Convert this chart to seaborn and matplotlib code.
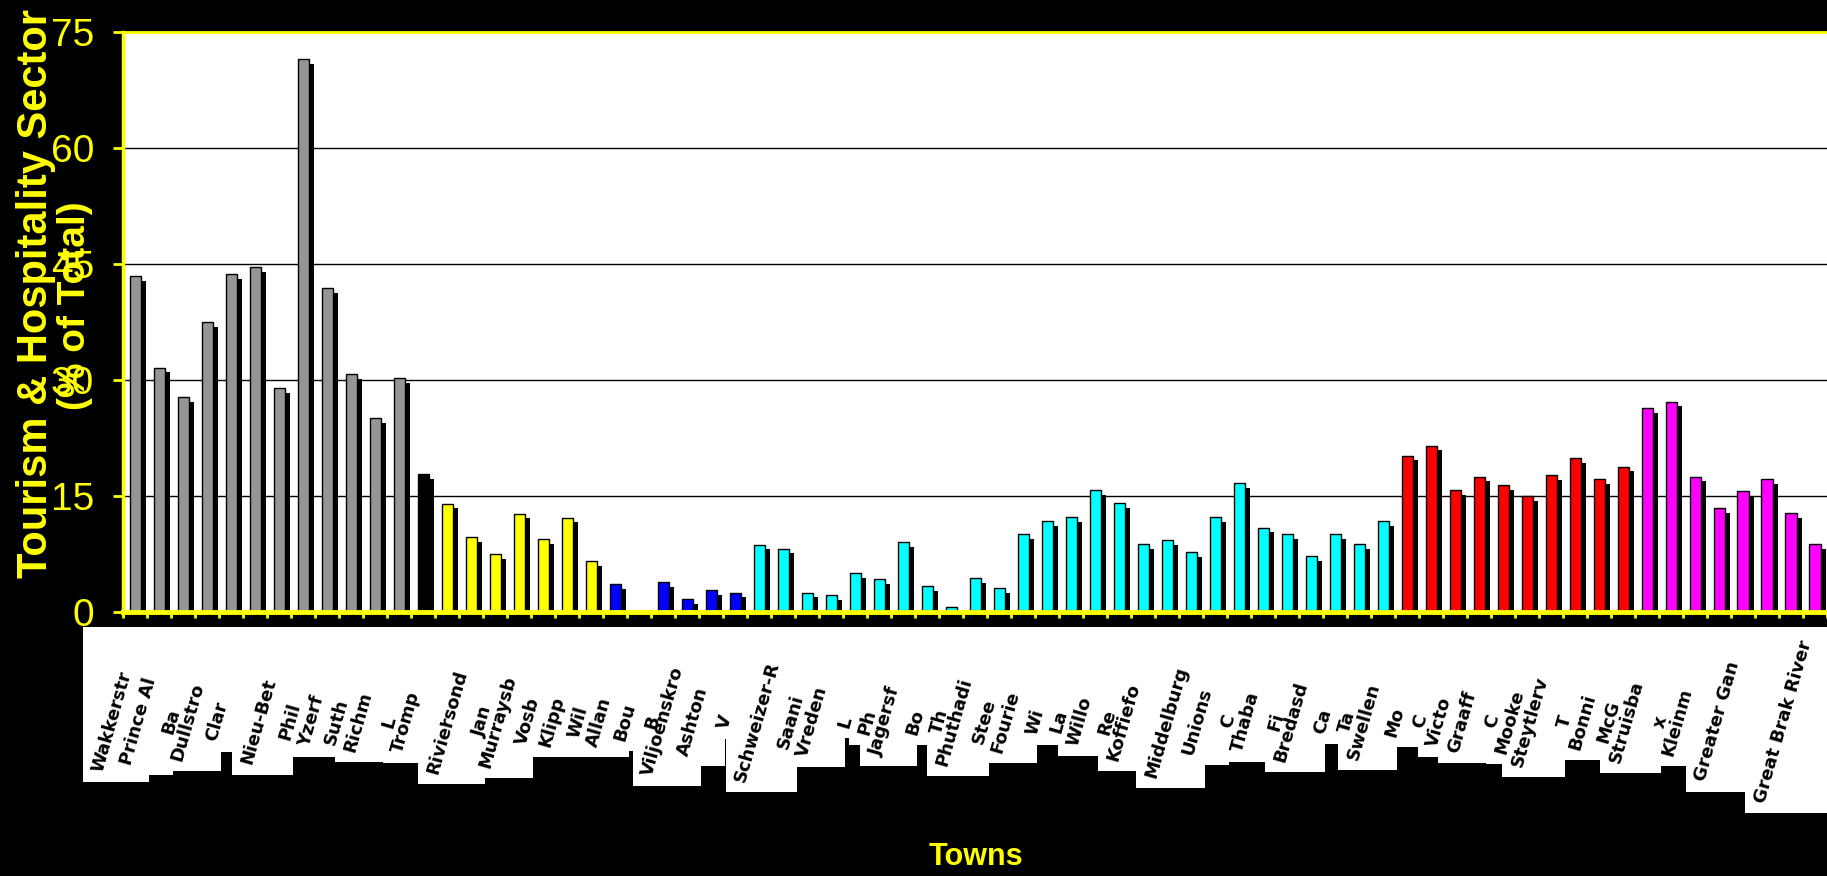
import numpy as np
import pandas as pd
import seaborn as sns
import matplotlib.pyplot as plt
from matplotlib.patches import Rectangle
from matplotlib.transforms import ScaledTranslation

# Town labels as they show (cut off) under each bar
towns = ["Wakkerstr", "Prince Al", "Ba", "Dullstro", "Clar", "", "Nieu-Bet", "Phil",
         "Yzerf", "Suth", "Richm", "L", "Tromp", ".", "Riviersond", "Jan",
         "Murraysb", "Vosb", "Klipp", "Wil", "Allan", "Bou", "B", "Viljoenskro",
         "Ashton", "V", "", "Schweizer-R", "Saani", "Vreden", "L", "Ph",
         "Jagersf", "Bo", "Th", "Phuthadi", "Stee", "Fourie", "Wi", "La",
         "Willo", "Re", "Koffiefo", "", "Middelburg", "Unions", "C", "Thaba",
         "Fi", "Bredasd", "Ca", "Ta", "Swellen", "Mo", "C", "Victo",
         "Graaff", "C", "Mooke", "Steytlerv", "T", "Bonni", "McG", "Struisba",
         "x", "Kleinm", "", "Greater Gan", "", "", "Great Brak River"]

# Tourism & hospitality share (% of total), per colour group
grey_vals = [43.4, 31.6, 27.8, 37.5, 43.7, 44.6, 28.9, 71.5, 41.9, 30.8, 25.1, 30.2]
black_vals = [17.8]
yellow_vals = [14.0, 9.7, 7.5, 12.7, 9.4, 12.2, 6.6]
blue_vals = [3.6, 0.0, 3.9, 1.7, 2.8, 2.5]
cyan_vals = [8.7, 8.2, 2.5, 2.2, 5.0, 4.2, 9.0, 3.3, 0.65, 4.4, 3.1, 10.1, 11.7, 12.3,
             15.8, 14.1, 8.8, 9.3, 7.7, 12.3, 16.7, 10.9, 10.1, 7.2, 10.1, 8.8, 11.7]
red_vals = [20.2, 21.5, 15.8, 17.5, 16.4, 15.0, 17.7, 19.9, 17.2, 18.8]
magenta_vals = [26.4, 27.2, 17.5, 13.4, 15.6, 17.2, 12.8, 8.8]

groups = (["grey"] * len(grey_vals) + ["black"] * len(black_vals)
          + ["yellow"] * len(yellow_vals) + ["blue"] * len(blue_vals)
          + ["cyan"] * len(cyan_vals) + ["red"] * len(red_vals)
          + ["magenta"] * len(magenta_vals))
values = grey_vals + black_vals + yellow_vals + blue_vals + cyan_vals + red_vals + magenta_vals

df = pd.DataFrame({"pos": range(len(values)), "value": values, "group": groups})
order = list(range(len(values)))

palette = {"grey": "#969696", "black": "#000000", "yellow": "#ffff00",
           "blue": "#0000ff", "cyan": "#00ffff", "red": "#ff0000", "magenta": "#ff00ff"}

sns.set_style("white")
plt.rcParams["font.family"] = ["Liberation Sans", "DejaVu Sans"]

fig = plt.figure(figsize=(18.27, 8.76), dpi=100, facecolor="black")
ax = fig.add_axes([0.0675, 0.3014, 0.9325, 0.6621])
ax.set_facecolor("white")

# black drop shadow behind every bar
sns.barplot(data=df, x="pos", y="value", order=order, color="black", width=0.46,
            linewidth=0, saturation=1, errorbar=None, ax=ax)
shift = ScaledTranslation(3.6 / 72, -3.4 / 72, fig.dpi_scale_trans)
for p in ax.patches:
    p.set_transform(ax.transData + shift)

sns.barplot(data=df, x="pos", y="value", hue="group", order=order, palette=palette,
            dodge=False, width=0.46, edgecolor="black", linewidth=1, saturation=1,
            errorbar=None, legend=False, ax=ax)

ax.set_xlim(-0.5, len(values) - 0.5)
ax.set_ylim(0, 75)
ax.set_yticks(range(0, 76, 15))
ax.yaxis.grid(True, color="black", linewidth=1)
ax.xaxis.grid(False)
ax.set_axisbelow(True)
ax.set_xlabel("")
ax.set_ylabel("")

for side, lw in [("left", 2.5), ("top", 2.0), ("bottom", 3.5)]:
    ax.spines[side].set_color("yellow")
    ax.spines[side].set_linewidth(lw)
ax.spines["right"].set_visible(False)

ax.tick_params(axis="y", colors="yellow", length=7, width=2, labelsize=28, pad=14, left=True)

ax.set_xticks(order)
ax.set_xticklabels(towns, rotation=74, ha="right", va="center", fontsize=13,
                   fontweight="bold", family="DejaVu Sans")
ax.tick_params(axis="x", which="major", length=0, pad=79, labelcolor="black")
ax.set_xticks(np.arange(-0.5, len(values), 1), minor=True)
ax.tick_params(axis="x", which="minor", length=4, width=2, color="yellow", bottom=True)

fig.text(0.0197, 0.6655, "Tourism & Hospitality Sector", rotation=90,
         ha="center", va="center", color="yellow", fontsize=30, fontweight="bold")
fig.text(0.041, 0.651, "(% of Total)", rotation=90,
         ha="center", va="center", color="yellow", fontsize=28, fontweight="bold")
fig.text(0.534, 0.0217, "Towns", ha="center", va="center", color="yellow",
         fontsize=22, fontweight="bold")

# white label panels behind the slanted town names
fig.canvas.draw()
renderer = fig.canvas.get_renderer()
W, H = fig.bbox.width, fig.bbox.height
box_top = ax.get_position().y0 * H - 15
for lab in ax.get_xticklabels():
    if not lab.get_text():
        continue
    bb = lab.get_window_extent(renderer)
    x0, x1, y0 = bb.x0 - 6, bb.x1 + 14, bb.y0 - 8
    fig.add_artist(Rectangle((x0 / W, y0 / H), (x1 - x0) / W, (box_top - y0) / H,
                             transform=fig.transFigure, facecolor="white",
                             edgecolor="none", zorder=-1))

fig.savefig("out.png", dpi=100, facecolor="black")
